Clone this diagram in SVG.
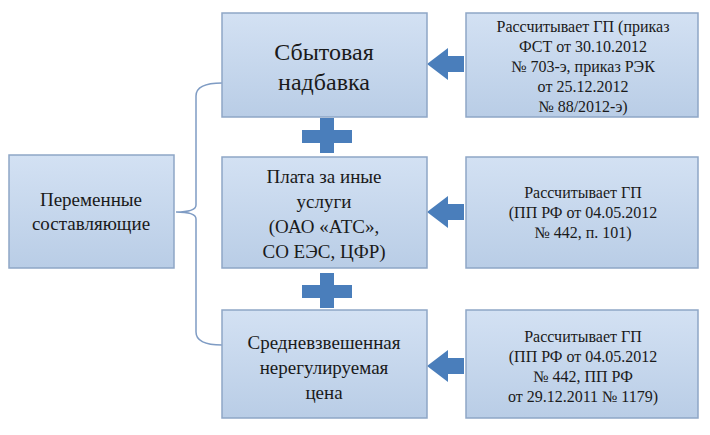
<svg xmlns="http://www.w3.org/2000/svg" width="710" height="435" viewBox="0 0 710 435">
<defs>
<linearGradient id="g" x1="0" y1="0" x2="0" y2="1"><stop offset="0" stop-color="#d3e1f3"/><stop offset="1" stop-color="#b9cde6"/></linearGradient>
<style>
.box{fill:url(#g);stroke:#8ea6c6;stroke-width:1.5}
.t{font-family:'Liberation Serif','DejaVu Serif','Times New Roman',serif;fill:#1a1a1a;text-anchor:middle}
.b{fill:#4a7ebb}
.c{fill:none;stroke:#7f9cc4;stroke-width:1.5}
</style>
</defs>
<rect width="710" height="435" fill="#fff"/>
<g id="connectors">
<path class="c" d="M222,83 Q196,83 196,96 L196,205 Q196,212 176,212 Q196,212 196,219 L196,332 Q196,345 222,345"/>
<path class="b" d="M320,118h14v12h18v13h-18v10h-14v-10h-18v-13h18z"/>
<path class="b" d="M320,273h14v12h18v13h-18v10h-14v-10h-18v-13h18z"/>
<path class="b" d="M427,64l21,-16v8h16v16h-16v8z"/>
<path class="b" d="M427,212l21,-16v8h16v16h-16v8z"/>
<path class="b" d="M427,366l21,-16v8h16v16h-16v8z"/>
</g>
<g id="n-left"><rect class="box" x="9" y="155" width="165" height="113"/>
<text class="t" font-size="19"><tspan x="91" y="206">Переменные</tspan><tspan x="91" y="230">составляющие</tspan></text></g>
<g id="n-top"><rect class="box" x="222" y="13" width="205" height="104"/>
<text class="t" font-size="24"><tspan x="324" y="60">Сбытовая</tspan><tspan x="324" y="90">надбавка</tspan></text></g>
<g id="n-mid"><rect class="box" x="222" y="157" width="205" height="111"/>
<text class="t" font-size="19"><tspan x="324" y="183">Плата за иные</tspan><tspan x="324" y="208">услуги</tspan><tspan x="324" y="233">(ОАО «АТС»,</tspan><tspan x="324" y="258">СО ЕЭС, ЦФР)</tspan></text></g>
<g id="n-bot"><rect class="box" x="222" y="310" width="205" height="108"/>
<text class="t" font-size="19"><tspan x="324" y="349">Средневзвешенная</tspan><tspan x="324" y="374">нерегулируемая</tspan><tspan x="324" y="399">цена</tspan></text></g>
<g id="r-top"><rect class="box" x="466" y="13" width="232" height="104"/>
<text class="t" font-size="16"><tspan x="583" y="32">Рассчитывает ГП (приказ</tspan><tspan x="583" y="52">ФСТ от 30.10.2012</tspan><tspan x="583" y="72">№ 703-э, приказ РЭК</tspan><tspan x="583" y="92">от 25.12.2012</tspan><tspan x="583" y="112">№ 88/2012-э)</tspan></text></g>
<g id="r-mid"><rect class="box" x="466" y="157" width="232" height="111"/>
<text class="t" font-size="16"><tspan x="583" y="198">Рассчитывает ГП</tspan><tspan x="583" y="218">(ПП РФ от 04.05.2012</tspan><tspan x="583" y="238">№ 442, п. 101)</tspan></text></g>
<g id="r-bot"><rect class="box" x="466" y="310" width="232" height="108"/>
<text class="t" font-size="16"><tspan x="583" y="342">Рассчитывает ГП</tspan><tspan x="583" y="362">(ПП РФ от 04.05.2012</tspan><tspan x="583" y="382">№ 442, ПП РФ</tspan><tspan x="583" y="402">от 29.12.2011 № 1179)</tspan></text></g>
</svg>
